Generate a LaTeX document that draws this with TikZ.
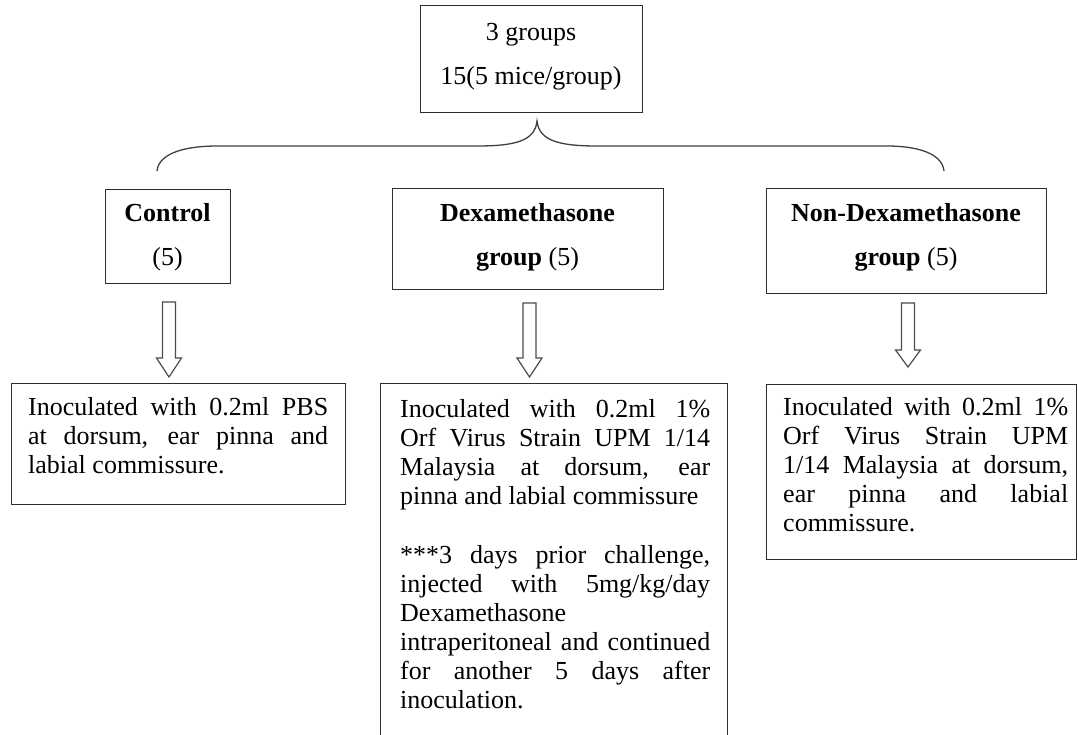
\documentclass[tikz,border=0pt]{standalone}
\usepackage{fontspec}
\setmainfont{Liberation Serif}
\usetikzlibrary{calc}
\newcommand\J[1]{\makebox[\linewidth][s]{#1}\par}
\newcommand\hollowarrow[3]{%
  \draw[harrow] ($(#1)+(-6.5,0)$) -- ($(#1)+(6.5,0)$) -- ($(#2)+(6.5,-#3)$)
    -- ($(#2)+(12.5,-#3)$) -- (#2) -- ($(#2)+(-12.5,-#3)$) -- ($(#2)+(-6.5,-#3)$) -- cycle;}
\begin{document}
\begin{tikzpicture}[x=1pt,y=-1pt,
  box/.style={draw=black!82, line width=1.4pt, inner sep=0pt, anchor=north west},
  txt/.style={inner sep=0pt, anchor=base, font=\fontsize{26}{29}\selectfont},
  ptxt/.style={inner sep=0pt, anchor=base west, font=\fontsize{26}{29}\selectfont},
  harrow/.style={draw=black!70, line width=1.2pt, line join=miter},
  bracestyle/.style={draw=black!75, line width=1.3pt}]
\useasboundingbox (0,0) rectangle (1078,734);
\clip (0,0) rectangle (1078,734);
% top box
\node[box, minimum width=222pt, minimum height=107pt] (top) at (420,5) {};
\node[txt] (top1) at (531,40) {3 groups};
\node[txt] (top2) at (531,84) {15(5 mice/group)};
% brace
\coordinate (peak) at (537,121);
\coordinate (bl) at (157,171);
\coordinate (br) at (944,171);
\draw[bracestyle] (bl) .. controls (159,152) and (188,146) .. (217,146) -- (477,146)
  .. controls (515,146) and (535,141) .. (peak)
  .. controls (539,141) and (560,146) .. (597,146) -- (887,146)
  .. controls (914,146) and (942,152) .. (br);
% group boxes
\node[box, minimum width=125pt, minimum height=94pt] (ctrl) at (105,189) {};
\node[txt] (ctrl1) at (167.5,221) {\bfseries Control};
\node[txt] (ctrl2) at (167.5,265) {(5)};
\node[box, minimum width=271pt, minimum height=101pt] (dex) at (392,188) {};
\node[txt] (dex1) at (527.5,221) {\bfseries Dexamethasone};
\node[txt] (dex2) at (527.5,265) {\textbf{group} (5)};
\node[box, minimum width=280pt, minimum height=105pt] (ndex) at (766,188) {};
\node[txt] (ndex1) at (906,221) {\bfseries Non-Dexamethasone};
\node[txt] (ndex2) at (906,265) {\textbf{group} (5)};
% arrows
\coordinate (a1s) at (169,302); \coordinate (a1t) at (169,377);
\coordinate (a2s) at (529.5,303); \coordinate (a2t) at (529.5,377);
\coordinate (a3s) at (908,303); \coordinate (a3t) at (908,367);
\hollowarrow{a1s}{a1t}{19}
\hollowarrow{a2s}{a2t}{19}
\hollowarrow{a3s}{a3t}{17}
% result boxes
\node[box, minimum width=334pt, minimum height=121pt] (res1) at (11,383) {};
\node[ptxt] (res1t) at (28,415) {\parbox[t]{300pt}{%
\J{Inoculated with 0.2ml PBS}
\J{at dorsum, ear pinna and}
labial commissure.}};
\node[box, minimum width=347pt, minimum height=400pt] (res2) at (380,383) {};
\node[ptxt] (res2t) at (400,417) {\parbox[t]{310pt}{%
\J{Inoculated with 0.2ml 1\%}
\J{Orf Virus Strain UPM 1/14}
\J{Malaysia at dorsum, ear}
pinna and labial commissure\par\vspace{30pt}
\J{***3 days prior challenge,}
\J{injected with 5mg/kg/day}
Dexamethasone\par
\J{intraperitoneal and continued}
\J{for another 5 days after}
inoculation.}};
\node[box, minimum width=310pt, minimum height=175pt] (res3) at (766,384) {};
\node[ptxt] (res3t) at (783,415) {\parbox[t]{285pt}{%
\J{Inoculated with 0.2ml 1\%}
\J{Orf Virus Strain UPM}
\J{1/14 Malaysia at dorsum,}
\J{ear pinna and labial}
commissure.}};
\end{tikzpicture}
\end{document}
